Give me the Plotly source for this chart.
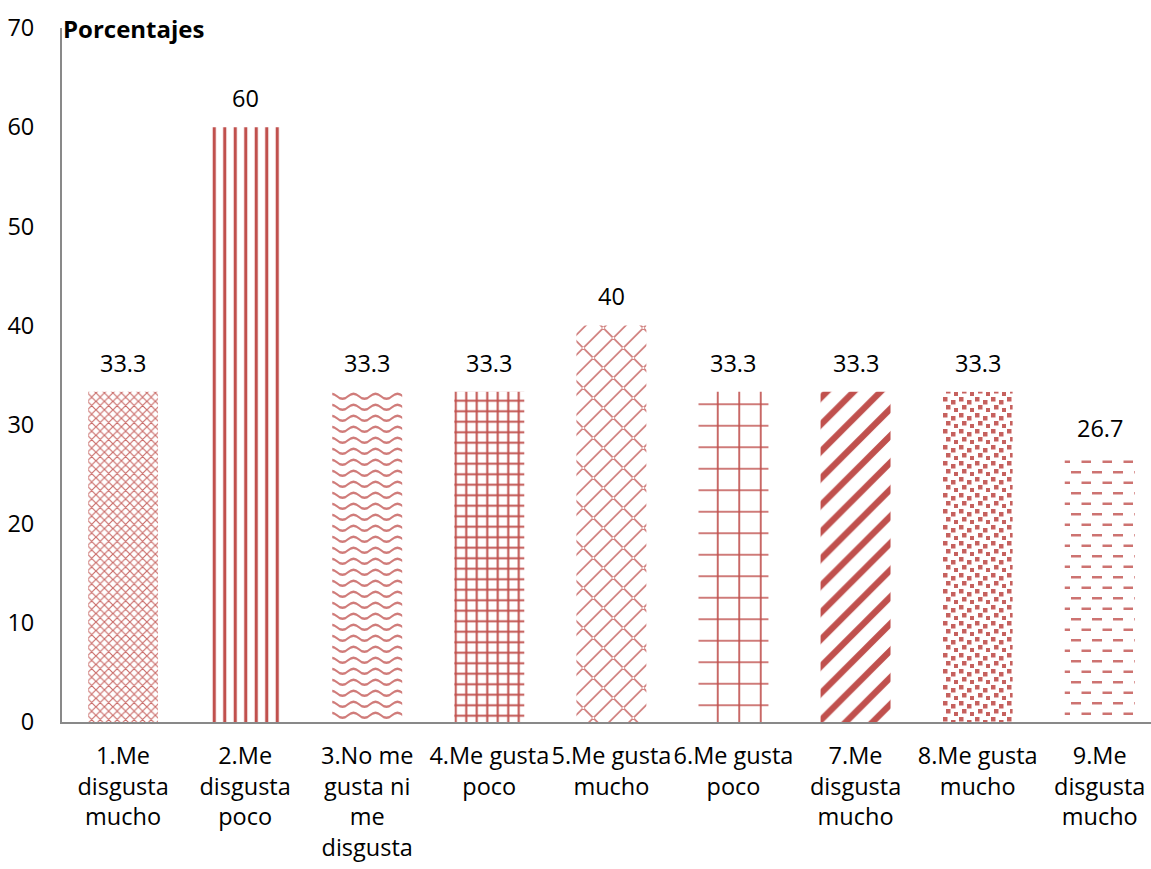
import plotly.graph_objects as go

categories = ["1.Me<br>disgusta<br>mucho", "2.Me<br>disgusta<br>poco", "3.No me<br>gusta ni<br>me<br>disgusta",
              "4.Me gusta<br>poco", "5.Me gusta<br>mucho", "6.Me gusta<br>poco", "7.Me<br>disgusta<br>mucho",
              "8.Me gusta<br>mucho", "9.Me<br>disgusta<br>mucho"]
values = [33.3, 60, 33.3, 33.3, 40, 33.3, 33.3, 33.3, 26.7]
labels = ["33.3", "60", "33.3", "33.3", "40", "33.3", "33.3", "33.3", "26.7"]
y_ticks = [0, 10, 20, 30, 40, 50, 60, 70]

RED = "#C0504D"


def wave_path():
    parts = []
    for c in (4, 15):
        t = 2.6
        parts.append(f"M0,{c} Q5.5,{c-5} 11,{c} T22,{c} V{c+t} "
                     f"Q16.5,{c+t+5} 11,{c+t} T0,{c+t} Z")
    return " ".join(parts)


def brick_path():
    parts = []
    th = 2.6
    for k in (0, 20, 40, 60, 80):
        parts.append(f"M-10,{k+10} L50,{k-50} L50,{k-50+th} L-10,{k+10+th} Z")
    for j, k in enumerate((0, 20, 40, 60)):
        for m in range(-4, 6):
            x0 = 10 * (j % 2) + 20 * m
            y0 = k - x0
            parts.append(f"M{x0},{y0} L{x0+10},{y0+10} L{x0+10+th},{y0+10} L{x0+th},{y0} Z")
    return " ".join(parts)


def dash_path():
    return "M1,2 H11 V4.6 H1 Z M11.5,12.5 H21.5 V15.1 H11.5 Z"


def dot_path():
    sq = [(1, 1), (9, 4), (4, 9), (12, 12)]
    return " ".join(f"M{x},{y} h4.5 v4.5 h-4.5 Z" for x, y in sq)


patterns = [
    dict(shape="x", size=6, solidity=0.35, fgopacity=0.85),
    dict(shape="|", size=10.5, solidity=0.3),
    dict(path=wave_path(), size=22, fgopacity=0.75),
    dict(shape="+", size=10.5, solidity=0.35),
    dict(path=brick_path(), size=40, fgopacity=0.7),
    dict(shape="+", size=21.5, solidity=0.15),
    dict(shape="/", size=19, solidity=0.33),
    dict(path=dot_path(), size=16, fgopacity=0.9),
    dict(path=dash_path(), size=21, fgopacity=0.8),
]

FONT = "Open Sans"
FS = 23.5
fig = go.Figure()
for i, (v, p) in enumerate(zip(values, patterns)):
    fig.add_trace(go.Bar(
        x=[i], y=[v], width=0.573,
        marker=dict(color="white", line=dict(width=0),
                    pattern=dict(fgcolor=RED, bgcolor="white", fillmode="replace", **p)),
        showlegend=False, hoverinfo="skip"))
    fig.add_annotation(x=i, y=v, text=labels[i], showarrow=False, yanchor="bottom",
                       yshift=11, font=dict(family=FONT, size=FS, color="black"))

fig.add_annotation(xref="paper", yref="paper", x=0, y=1, xanchor="left", yanchor="middle",
                   xshift=-1, text="<b>Porcentajes</b>", showarrow=False,
                   font=dict(family=FONT, size=24, color="black"))

fig.update_layout(
    width=1151, height=869,
    margin=dict(l=62, r=0, t=28, b=147),
    plot_bgcolor="white", paper_bgcolor="white",
    font=dict(family=FONT, size=FS, color="black"),
    xaxis=dict(range=[-0.5, 8.42], tickmode="array", tickvals=list(range(len(categories))),
               ticktext=categories, showline=True, linecolor="#898989", linewidth=2,
               showgrid=False, zeroline=False, ticks="", tickangle=0, ticklabelstandoff=12),
    yaxis=dict(range=[0, 70], tickmode="array", tickvals=y_ticks, showline=True,
               linecolor="#898989", linewidth=2, showgrid=False, zeroline=False, ticks="",
               ticklabelstandoff=21),
)
fig.write_html("out.html")
